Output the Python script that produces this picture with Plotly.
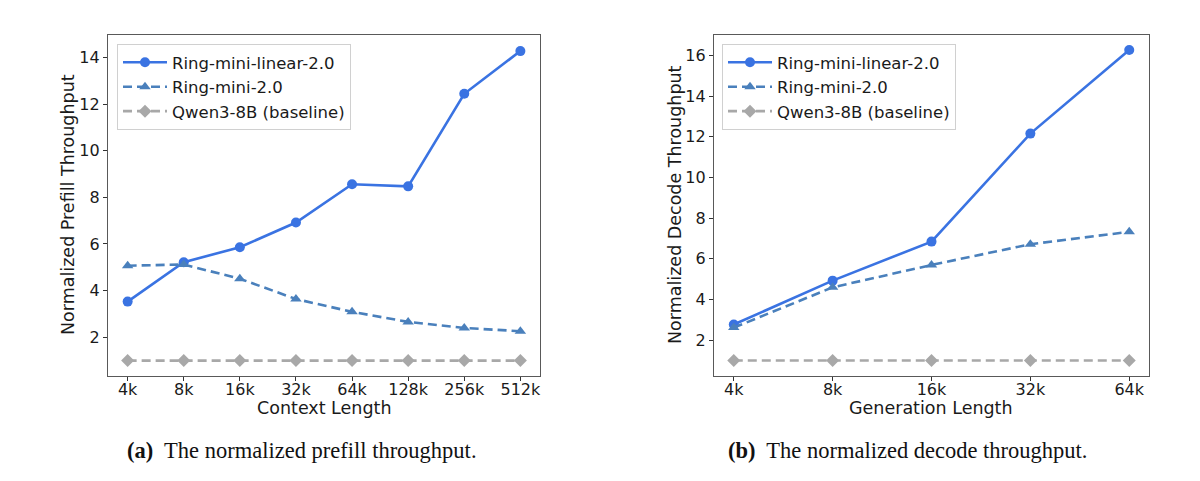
import plotly.graph_objects as go

# ---------------- data ----------------
prefill_ctx = ["4k", "8k", "16k", "32k", "64k", "128k", "256k", "512k"]
prefill_linear = [3.53, 5.22, 5.86, 6.92, 8.56, 8.47, 12.44, 14.27]
prefill_ring = [5.07, 5.12, 4.51, 3.64, 3.09, 2.66, 2.40, 2.26]
prefill_base = [1.0, 1.0, 1.0, 1.0, 1.0, 1.0, 1.0, 1.0]

decode_gen = ["4k", "8k", "16k", "32k", "64k"]
decode_linear = [2.77, 4.93, 6.85, 12.16, 16.27]
decode_ring = [2.62, 4.60, 5.70, 6.72, 7.33]
decode_base = [1.0, 1.0, 1.0, 1.0, 1.0]

series_names = ["Ring-mini-linear-2.0", "Ring-mini-2.0", "Qwen3-8B (baseline)"]

# ---------------- style ----------------
C_LINEAR = "#3a73e2"
C_RING = "#4a80bc"
C_BASE = "#a8a8a8"
FONT = "DejaVu Sans"
W, H = 1200, 481


def px_x(p):
    return p / W


def px_y(p):
    return (H - p) / H


fig = go.Figure()

styles = [
    dict(color=C_LINEAR, dash="solid", symbol="circle", size=10),
    dict(color=C_RING, dash="9px,5px", symbol="triangle-up", size=10),
    dict(color=C_BASE, dash="9px,5px", symbol="diamond", size=10),
]


def add_panel(xlabels, series, xaxis, yaxis, legend):
    xs = list(range(len(xlabels)))
    for name, ys, st in zip(series_names, series, styles):
        fig.add_trace(go.Scatter(
            x=xs, y=ys, name=name, mode="lines+markers",
            xaxis=xaxis, yaxis=yaxis, legend=legend,
            legendgroup=legend + name,
            line=dict(color=st["color"], width=2.6, dash=st["dash"]),
            marker=dict(symbol=st["symbol"], size=st["size"], color=st["color"],
                        line=dict(width=0)),
        ))


add_panel(prefill_ctx, [prefill_linear, prefill_ring, prefill_base], "x", "y", "legend")
add_panel(decode_gen, [decode_linear, decode_ring, decode_base], "x2", "y2", "legend2")

axis_common = dict(
    showgrid=False, zeroline=False, showline=True, mirror=True,
    linecolor="#595959", linewidth=1.2,
    ticks="outside", ticklen=4, tickwidth=1, tickcolor="#333333",
    tickfont=dict(family=FONT, size=16, color="#1a1a1a"),
)

y_dom = [px_y(376), px_y(35)]

legend_common = dict(
    xanchor="left", yanchor="top",
    bgcolor="rgba(255,255,255,0.85)", bordercolor="#d0d0d0", borderwidth=1,
    font=dict(family=FONT, size=16.5, color="#1a1a1a"), tracegroupgap=0,
    itemwidth=44,
)

fig.update_layout(
    width=W, height=H,
    margin=dict(l=0, r=0, t=0, b=0),
    paper_bgcolor="white", plot_bgcolor="white",
    font=dict(family=FONT, size=16, color="#1a1a1a"),
    xaxis=dict(domain=[px_x(108), px_x(540)], range=[-0.35, 7.35],
               tickmode="array", tickvals=list(range(len(prefill_ctx))),
               ticktext=prefill_ctx, anchor="y", ticklabelstandoff=-5, **axis_common),
    yaxis=dict(domain=y_dom, range=[0.34, 14.96], tickmode="array",
               tickvals=[2, 4, 6, 8, 10, 12, 14], anchor="x", **axis_common),
    xaxis2=dict(domain=[px_x(714), px_x(1149)], range=[-0.2, 4.2],
                tickmode="array", tickvals=list(range(len(decode_gen))),
                ticktext=decode_gen, anchor="y2", ticklabelstandoff=-5, **axis_common),
    yaxis2=dict(domain=y_dom, range=[0.24, 17.01], tickmode="array",
                tickvals=[2, 4, 6, 8, 10, 12, 14, 16], anchor="x2", **axis_common),
    legend=dict(x=px_x(117), y=px_y(44), **legend_common),
    legend2=dict(x=px_x(722), y=px_y(44), **legend_common),
    showlegend=True,
)

ann_font = dict(family=FONT, size=17.5, color="#1a1a1a")
# axis titles
fig.add_annotation(text="Context Length", x=px_x(324), y=px_y(408), xref="paper", yref="paper",
                   showarrow=False, font=ann_font, xanchor="center", yanchor="middle")
fig.add_annotation(text="Generation Length", x=px_x(931), y=px_y(408), xref="paper", yref="paper",
                   showarrow=False, font=ann_font, xanchor="center", yanchor="middle")
fig.add_annotation(text="Normalized Prefill Throughput", x=px_x(68), y=px_y(205), xref="paper",
                   yref="paper", showarrow=False, font=ann_font, textangle=-90,
                   xanchor="center", yanchor="middle")
fig.add_annotation(text="Normalized Decode Throughput", x=px_x(675), y=px_y(205), xref="paper",
                   yref="paper", showarrow=False, font=ann_font, textangle=-90,
                   xanchor="center", yanchor="middle")

# captions
cap_font = dict(family="Liberation Serif", size=22.5, color="#111111")
fig.add_annotation(text="<b>(a)</b>  The normalized prefill throughput.", x=px_x(302), y=px_y(450),
                   xref="paper", yref="paper", showarrow=False, font=cap_font,
                   xanchor="center", yanchor="middle")
fig.add_annotation(text="<b>(b)</b>  The normalized decode throughput.", x=px_x(908), y=px_y(450),
                   xref="paper", yref="paper", showarrow=False, font=cap_font,
                   xanchor="center", yanchor="middle")

fig.write_html("out.html")
